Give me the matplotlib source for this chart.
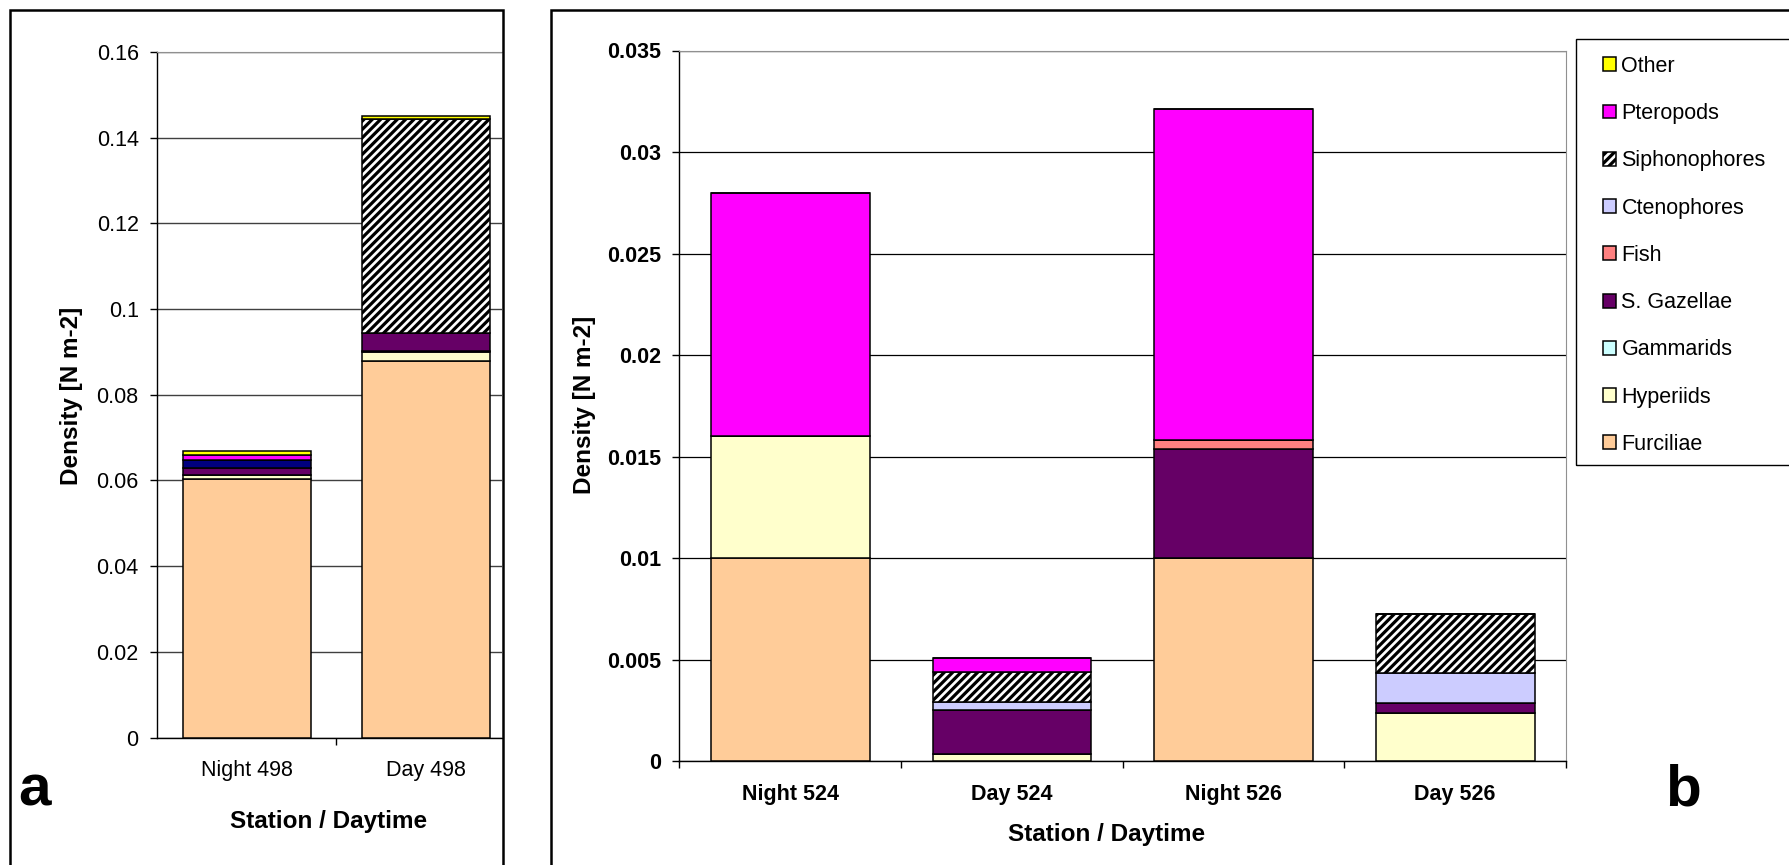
import matplotlib
matplotlib.use("Agg")
import matplotlib.pyplot as plt
from matplotlib.patches import Rectangle, Patch
from matplotlib.ticker import FuncFormatter, FixedLocator
import numpy as np

plt.rcParams['font.family'] = ['Liberation Sans', 'DejaVu Sans']
plt.rcParams['hatch.linewidth'] = 2.3

# ---------------- data ----------------
series = ['Furciliae', 'Hyperiids', 'Gammarids', 'S. Gazellae', 'Fish',
          'Ctenophores', 'Siphonophores', 'Pteropods', 'Other']

categories_a = ['Night 498', 'Day 498']
furciliae_a = [0.0603, 0.0878]
hyperiids_a = [0.0010, 0.0021]
gammarids_a = [0.0, 0.0003]
gazellae_a = [0.0017, 0.0043]
fish_a = [0.0017, 0.0]
ctenophores_a = [0.0, 0.0]
siphonophores_a = [0.0, 0.0498]
pteropods_a = [0.0013, 0.0]
other_a = [0.0009, 0.0007]

categories_b = ['Night 524', 'Day 524', 'Night 526', 'Day 526']
furciliae_b = [0.0100, 0.0, 0.0100, 0.0]
hyperiids_b = [0.0060, 0.00035, 0.0, 0.0024]
gammarids_b = [0.0, 0.0, 0.0, 0.0]
gazellae_b = [0.0, 0.0022, 0.0054, 0.00048]
fish_b = [0.0, 0.0, 0.0004, 0.0]
ctenophores_b = [0.0, 0.00036, 0.0, 0.00145]
siphonophores_b = [0.0, 0.0015, 0.0, 0.00295]
pteropods_b = [0.0120, 0.0007, 0.0163, 0.0]
other_b = [0.0, 0.0, 0.0, 0.0]

yticks_a = [0, 0.02, 0.04, 0.06, 0.08, 0.10, 0.12, 0.14, 0.16]
yticks_b = [0, 0.005, 0.01, 0.015, 0.02, 0.025, 0.03, 0.035]

# ---------------- styles ----------------
colors_b = ['#FFCC99', '#FFFFCC', '#CCFFFF', '#660066', '#FF8080',
            '#CCCCFF', '#FFFFFF', '#FF00FF', '#FFFF00']
colors_a = ['#FFCC99', '#FFFFCC', '#CCFFFF', '#660066', '#000080',
            '#CCCCFF', '#FFFFFF', '#FF00FF', '#FFFF00']
hatches = [None, None, None, None, None, None, '////', None, None]

W, H = 1790, 865
fig = plt.figure(figsize=(W / 100, H / 100), dpi=100)


def fx(px):
    return px / W


def fy(py):
    return 1 - py / H


FS = 15.5
FS_LAB = 17.5

ax_a = fig.add_axes([fx(157.3), fy(737.5), fx(502) - fx(157.3), fy(52) - fy(737.5)])
ax_b = fig.add_axes([fx(679.5), fy(761.4), fx(1566) - fx(679.5), fy(50.5) - fy(761.4)])


def stack(ax, cats, data, colors, width):
    x = np.arange(len(cats))
    bottom = np.zeros(len(cats))
    for name, vals, c, h in zip(series, data, colors, hatches):
        vals = np.asarray(vals, dtype=float)
        ax.bar(x, vals, width, bottom=bottom, color=c, edgecolor='black',
               linewidth=1.1, hatch=h, zorder=3, label=name)
        bottom = bottom + vals
    return x


data_a = [furciliae_a, hyperiids_a, gammarids_a, gazellae_a, fish_a,
          ctenophores_a, siphonophores_a, pteropods_a, other_a]
data_b = [furciliae_b, hyperiids_b, gammarids_b, gazellae_b, fish_b,
          ctenophores_b, siphonophores_b, pteropods_b, other_b]

xa = stack(ax_a, categories_a, data_a, colors_a, 0.718)
xb = stack(ax_b, categories_b, data_b, colors_b, 0.716)

fmt = FuncFormatter(lambda v, p: ('%g' % round(v, 4)))

# panel a axes
ax_a.set_xlim(-0.5, 1.425)
ax_a.set_ylim(0, 0.16)
ax_a.set_yticks(yticks_a)
ax_a.yaxis.set_major_formatter(fmt)
ax_a.xaxis.set_major_locator(FixedLocator([0.5]))
ax_a.xaxis.set_minor_locator(FixedLocator(list(xa)))
ax_a.set_xticklabels([''])
ax_a.set_xticklabels(categories_a, minor=True)
ax_a.tick_params(axis='x', which='major', length=5, width=1.0, direction='out')
ax_a.tick_params(axis='x', which='minor', length=0, pad=16.5, labelsize=FS)
ax_a.tick_params(axis='y', length=5, width=1.0, pad=8.4, labelsize=FS)
ax_a.yaxis.grid(True, color='#404040', linewidth=1.0, zorder=0)
ax_a.set_axisbelow(True)
ax_a.spines['right'].set_visible(False)
ax_a.spines['top'].set_color('#909090')
ax_a.spines['left'].set_linewidth(1.0)
ax_a.spines['bottom'].set_linewidth(1.0)

# panel b axes
ax_b.set_xlim(-0.5, 3.5)
ax_b.set_ylim(0, 0.035)
ax_b.set_yticks(yticks_b)
ax_b.yaxis.set_major_formatter(fmt)
ax_b.xaxis.set_major_locator(FixedLocator([-0.5, 0.5, 1.5, 2.5, 3.5]))
ax_b.xaxis.set_minor_locator(FixedLocator(list(xb)))
ax_b.set_xticklabels([''] * 5)
ax_b.set_xticklabels(categories_b, minor=True, fontweight='bold')
ax_b.tick_params(axis='x', which='major', length=5, width=1.0, direction='out')
ax_b.tick_params(axis='x', which='minor', length=0, pad=16.4, labelsize=FS)
ax_b.tick_params(axis='y', length=5, width=1.0, pad=8, labelsize=FS)
for t in ax_b.get_yticklabels():
    t.set_fontweight('bold')
ax_b.yaxis.grid(True, color='black', linewidth=0.9, zorder=0)
ax_b.set_axisbelow(True)
ax_b.spines['right'].set_color('#909090')
ax_b.spines['top'].set_color('#909090')
ax_b.spines['left'].set_linewidth(1.0)
ax_b.spines['bottom'].set_linewidth(1.0)

# axis titles
fig.text(fx(72), fy(396), 'Density [N m-2]', rotation=90, ha='center', va='center',
         fontsize=FS_LAB, fontweight='bold')
fig.text(fx(584.5), fy(405), 'Density [N m-2]', rotation=90, ha='center', va='center',
         fontsize=FS_LAB, fontweight='bold')
fig.text(fx(329), fy(828), 'Station / Daytime', ha='center', va='baseline',
         fontsize=FS_LAB, fontweight='bold')
fig.text(fx(1107), fy(841.5), 'Station / Daytime', ha='center', va='baseline',
         fontsize=FS_LAB, fontweight='bold')

# panel letters
fig.text(fx(34), fy(791), 'a', ha='center', va='center', fontsize=42, fontweight='bold')
fig.text(fx(1683), fy(791), 'b', ha='center', va='center', fontsize=42, fontweight='bold')

# panel frames
fig.patches.append(Rectangle((fx(10.3), -0.05), fx(503.4) - fx(10.3), fy(10.3) + 0.05,
                             transform=fig.transFigure, fill=False, edgecolor='black',
                             linewidth=1.8, zorder=10))
fig.patches.append(Rectangle((fx(551.4), -0.05), 1.2 - fx(551.4), fy(10.3) + 0.05,
                             transform=fig.transFigure, fill=False, edgecolor='black',
                             linewidth=1.8, zorder=10))
# legend frame
fig.patches.append(Rectangle((fx(1576.5), fy(464.6)), 1.2 - fx(1576.5), fy(38.8) - fy(464.6),
                             transform=fig.transFigure, fill=False, edgecolor='black',
                             linewidth=1.0, zorder=10))

# legend (reverse order: Other on top)
handles = [Patch(facecolor=c, edgecolor='black', hatch=h, linewidth=1.1)
             for c, h in zip(colors_b, hatches)]
leg = fig.legend(handles[::-1], series[::-1], loc='upper left',
                 bbox_to_anchor=(fx(1602.7), fy(55.8)), bbox_transform=fig.transFigure,
                 frameon=False, borderpad=0, borderaxespad=0, fontsize=FS,
                 handlelength=0.62, handleheight=0.62, handletextpad=0.25,
                 labelspacing=1.22)

fig.savefig('out.png', dpi=100)
